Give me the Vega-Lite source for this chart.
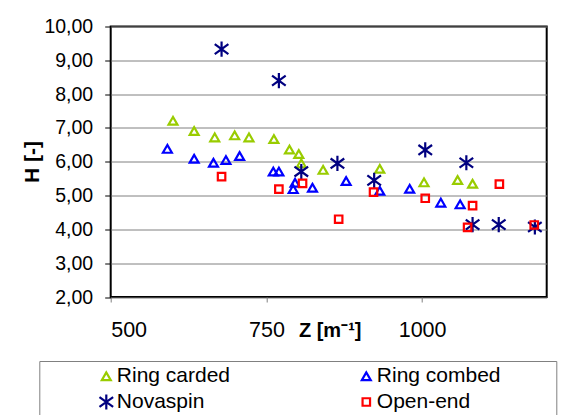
{
  "$schema": "https://vega.github.io/schema/vega-lite/v6.json",
  "width": 436,
  "height": 270.5,
  "autosize": "none",
  "padding": {"left": 110.7, "top": 26.5, "right": 22.3, "bottom": 118},
  "background": "white",
  "config": {
    "font": "Liberation Sans",
    "view": {"stroke": "black", "strokeWidth": 2}
  },
  "data": {
    "values": [
      {"s": "Ring carded", "z": 600, "h": 7.21},
      {"s": "Ring carded", "z": 634, "h": 6.91},
      {"s": "Ring carded", "z": 667, "h": 6.72},
      {"s": "Ring carded", "z": 699, "h": 6.78},
      {"s": "Ring carded", "z": 722, "h": 6.72},
      {"s": "Ring carded", "z": 762, "h": 6.67},
      {"s": "Ring carded", "z": 787, "h": 6.36},
      {"s": "Ring carded", "z": 802, "h": 6.23},
      {"s": "Ring carded", "z": 806, "h": 5.95},
      {"s": "Ring carded", "z": 841, "h": 5.76},
      {"s": "Ring carded", "z": 932, "h": 5.79},
      {"s": "Ring carded", "z": 1003, "h": 5.39},
      {"s": "Ring carded", "z": 1057, "h": 5.46},
      {"s": "Ring carded", "z": 1081, "h": 5.35},
      {"s": "Ring combed", "z": 591, "h": 6.38},
      {"s": "Ring combed", "z": 634, "h": 6.09},
      {"s": "Ring combed", "z": 665, "h": 5.97},
      {"s": "Ring combed", "z": 685, "h": 6.05},
      {"s": "Ring combed", "z": 707, "h": 6.17},
      {"s": "Ring combed", "z": 761, "h": 5.71},
      {"s": "Ring combed", "z": 770, "h": 5.71},
      {"s": "Ring combed", "z": 796, "h": 5.38},
      {"s": "Ring combed", "z": 793, "h": 5.19},
      {"s": "Ring combed", "z": 824, "h": 5.23},
      {"s": "Ring combed", "z": 878, "h": 5.43},
      {"s": "Ring combed", "z": 932, "h": 5.14},
      {"s": "Ring combed", "z": 980, "h": 5.2},
      {"s": "Ring combed", "z": 1030, "h": 4.79},
      {"s": "Ring combed", "z": 1061, "h": 4.74},
      {"s": "Novaspin", "z": 678, "h": 9.33},
      {"s": "Novaspin", "z": 770, "h": 8.4},
      {"s": "Novaspin", "z": 806, "h": 5.71},
      {"s": "Novaspin", "z": 864, "h": 5.95},
      {"s": "Novaspin", "z": 923, "h": 5.45},
      {"s": "Novaspin", "z": 1005, "h": 6.35},
      {"s": "Novaspin", "z": 1071, "h": 5.97},
      {"s": "Novaspin", "z": 1081, "h": 4.14},
      {"s": "Novaspin", "z": 1123, "h": 4.14},
      {"s": "Novaspin", "z": 1181, "h": 4.07},
      {"s": "Open-end", "z": 678, "h": 5.56},
      {"s": "Open-end", "z": 770, "h": 5.19},
      {"s": "Open-end", "z": 808, "h": 5.36},
      {"s": "Open-end", "z": 866, "h": 4.3},
      {"s": "Open-end", "z": 922, "h": 5.1},
      {"s": "Open-end", "z": 1005, "h": 4.92},
      {"s": "Open-end", "z": 1081, "h": 4.7},
      {"s": "Open-end", "z": 1073, "h": 4.06},
      {"s": "Open-end", "z": 1124, "h": 5.34},
      {"s": "Open-end", "z": 1180, "h": 4.13}
    ]
  },
  "mark": {"type": "point", "filled": false, "opacity": 1, "strokeWidth": 2.2},
  "encoding": {
    "x": {
      "field": "z", "type": "quantitative",
      "scale": {"domain": [500, 1200], "nice": false, "zero": false},
      "axis": {
        "values": [500, 750, 1000],
        "format": "d",
        "grid": false,
        "domain": false,
        "tickSize": 5,
        "tickColor": "#808080",
        "labelFontSize": 21.5,
        "labelColor": "black",
        "labelBaseline": "alphabetic",
        "labelPadding": 34.5,
        "title": "Z [m⁻¹]",
        "titleFontSize": 20,
        "titleFontWeight": "bold",
        "titleColor": "black",
        "titleX": 219,
        "titleY": 39.5,
        "titleAlign": "center",
        "titleBaseline": "alphabetic"
      }
    },
    "y": {
      "field": "h", "type": "quantitative",
      "scale": {"domain": [2, 10], "nice": false, "zero": false},
      "axis": {
        "values": [2, 3, 4, 5, 6, 7, 8, 9, 10],
        "labelExpr": "replace(format(datum.value, '.2f'), '.', ',')",
        "grid": true,
        "gridColor": "#808080",
        "gridWidth": 1,
        "domain": false,
        "tickSize": 6,
        "tickColor": "black",
        "labelFontSize": 19.5,
        "labelColor": "black",
        "labelPadding": 12,
        "title": "H [-]",
        "titleFontSize": 21,
        "titleFontWeight": "bold",
        "titleColor": "black",
        "titleX": -78,
        "titleY": 135,
        "titleAngle": -90,
        "titleAlign": "center",
        "titleBaseline": "middle"
      }
    },
    "color": {
      "field": "s", "type": "nominal",
      "scale": {
        "domain": ["Ring carded", "Ring combed", "Novaspin", "Open-end", "pad1", "pad2"],
        "range": ["#99CC00", "#0000FF", "#000080", "#FF0000", "#FFFFFF", "#FFFFFF"]
      },
      "legend": {
        "orient": "none", "legendX": -71.4, "legendY": 334.5,
        "columns": 2, "direction": "horizontal",
        "title": "\u00a0", "titleOrient": "left", "titleFontSize": 1, "titlePadding": 52,
        "labelFontSize": 21, "labelColor": "black", "labelOffset": 0, "labelLimit": 400,
        "labelExpr": "datum.label == 'pad1' ? '' : datum.label == 'pad2' ? 'MMMMMMMMMM' : datum.label",
        "rowPadding": 3, "columnPadding": 125, "symbolStrokeWidth": 2.2,
        "strokeColor": "#808080", "padding": 4.5
      }
    },
    "shape": {
      "field": "s", "type": "nominal",
      "scale": {
        "domain": ["Ring carded", "Ring combed", "Novaspin", "Open-end", "pad1", "pad2"],
        "range": ["triangle-up", "triangle-up", "M0,-1L0,1M-0.9,-0.65L0.9,0.65M-0.9,0.65L0.9,-0.65", "square", "square", "square"]
      },
      "legend": {
        "orient": "none", "legendX": -71.4, "legendY": 334.5,
        "columns": 2, "direction": "horizontal",
        "title": "\u00a0", "titleOrient": "left", "titleFontSize": 1, "titlePadding": 52,
        "labelFontSize": 21, "labelColor": "black", "labelOffset": 0, "labelLimit": 400,
        "labelExpr": "datum.label == 'pad1' ? '' : datum.label == 'pad2' ? 'MMMMMMMMMM' : datum.label",
        "rowPadding": 3, "columnPadding": 125, "symbolStrokeWidth": 2.2,
        "strokeColor": "#808080", "padding": 4.5
      }
    },
    "size": {
      "field": "s", "type": "nominal",
      "scale": {
        "type": "ordinal",
        "domain": ["Ring carded", "Ring combed", "Novaspin", "Open-end", "pad1", "pad2"],
        "range": [80, 80, 230, 56, 1, 1]
      },
      "legend": {
        "orient": "none", "legendX": -71.4, "legendY": 334.5,
        "columns": 2, "direction": "horizontal",
        "title": "\u00a0", "titleOrient": "left", "titleFontSize": 1, "titlePadding": 52,
        "labelFontSize": 21, "labelColor": "black", "labelOffset": 0, "labelLimit": 400,
        "labelExpr": "datum.label == 'pad1' ? '' : datum.label == 'pad2' ? 'MMMMMMMMMM' : datum.label",
        "rowPadding": 3, "columnPadding": 125, "symbolStrokeWidth": 2.2,
        "strokeColor": "#808080", "padding": 4.5
      }
    }
  }
}
